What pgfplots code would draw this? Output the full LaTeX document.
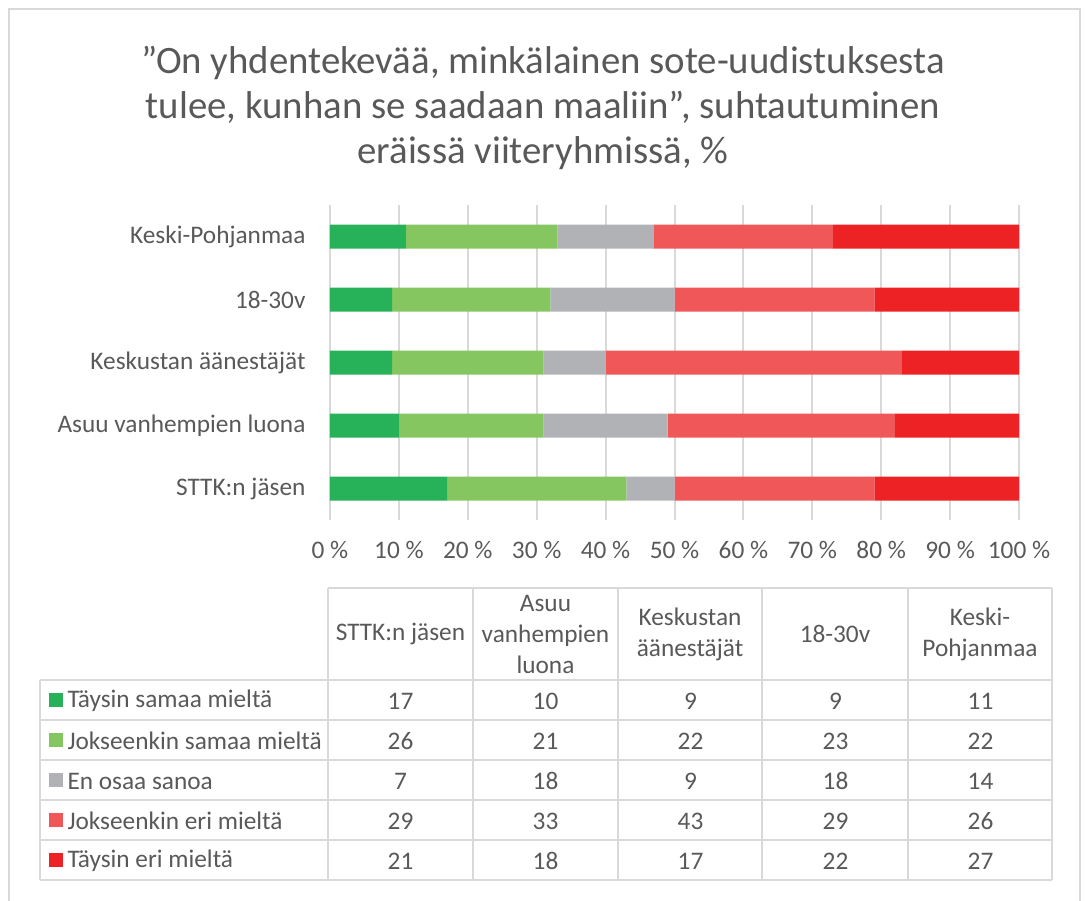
\documentclass[border=0pt]{standalone}
\usepackage{fontspec}
\setmainfont{Carlito}
\usepackage{pgfplots}
\pgfplotsset{compat=1.18}
\definecolor{cA}{HTML}{27B25A}
\definecolor{cB}{HTML}{86C660}
\definecolor{cC}{HTML}{B1B2B5}
\definecolor{cD}{HTML}{F05759}
\definecolor{cE}{HTML}{ED2224}
\definecolor{txt}{HTML}{595959}
\definecolor{gridc}{HTML}{D9D9D9}
\newcommand{\tfont}{\fontsize{25.3}{31}\selectfont}
\begin{document}
\begin{tikzpicture}
\begin{scope}[x=1pt,y=-1pt]
\useasboundingbox (0,0) rectangle (1085,901);
\draw[line width=2pt, gridc] (9,9) rectangle (1080,930);
\node[font=\fontsize{38.8}{45}\selectfont, text=txt, align=center] at (543,108)
  {”On yhdentekevää, minkälainen sote-uudistuksesta\\tulee, kunhan se saadaan maaliin”, suhtautuminen\\eräissä viiteryhmissä, \%};
\end{scope}

\begin{axis}[
  at={(330pt,-520pt)}, anchor=south west,
  width=689pt, height=315pt, scale only axis,
  xmin=0, xmax=100, ymin=-0.5, ymax=4.5,
  xbar stacked, bar width=24pt,
  axis line style={draw=none}, major tick length=0pt,
  xmajorgrids, grid style={line width=2pt, gridc},
  xtick={0,10,...,100},
  xticklabels={0 \%,10 \%,20 \%,30 \%,40 \%,50 \%,60 \%,70 \%,80 \%,90 \%,100 \%},
  ytick={0,1,2,3,4},
  yticklabels={STTK:n jäsen,Asuu vanhempien luona,Keskustan äänestäjät,18-30v,Keski-Pohjanmaa},
  tick label style={font=\tfont, text=txt},
  xticklabel style={yshift=-18pt},
  yticklabel style={xshift=-21pt},
  /pgf/number format/assume math mode=true,
]
% order: STTK, Asuu, Keskustan, 18-30v, Keski-Pohjanmaa
\addplot[fill=cA, draw=none] coordinates {(17,0) (10,1) (9,2) (9,3) (11,4)};
\addplot[fill=cB, draw=none] coordinates {(26,0) (21,1) (22,2) (23,3) (22,4)};
\addplot[fill=cC, draw=none] coordinates {(7,0) (18,1) (9,2) (18,3) (14,4)};
\addplot[fill=cD, draw=none] coordinates {(29,0) (33,1) (43,2) (29,3) (26,4)};
\addplot[fill=cE, draw=none] coordinates {(21,0) (18,1) (17,2) (22,3) (27,4)};
\end{axis}

\begin{scope}[x=1pt,y=-1pt]
% data table
\draw[line width=2pt, gridc] (328,588) -- (1052,588);
\foreach \yy in {680,720,...,880} \draw[line width=2pt, gridc] (40,\yy) -- (1052,\yy);
\draw[line width=2pt, gridc] (40,680) -- (40,880);
\foreach \xx in {328,473,618,762,908,1052} \draw[line width=2pt, gridc] (\xx,588) -- (\xx,880);
\begin{scope}[every node/.style={font=\tfont, text=txt, align=center}]
\node at (400.5,634) {STTK:n jäsen};
\node at (545.5,634) {Asuu\\vanhempien\\luona};
\node at (690,634) {Keskustan\\äänestäjät};
\node at (835,634) {18-30v};
\node at (980,634) {Keski-\\Pohjanmaa};
\end{scope}
\begin{scope}[every node/.style={font=\tfont, text=txt}]
\fill[cA] (49,693) rectangle (63,707);
\fill[cB] (49,733) rectangle (63,747);
\fill[cC] (49,773) rectangle (63,787);
\fill[cD] (49,813) rectangle (63,827);
\fill[cE] (49,853) rectangle (63,867);
\node[anchor=west] at (64,701) {Täysin samaa mieltä};
\node[anchor=west] at (64,741) {Jokseenkin samaa mieltä};
\node[anchor=west] at (64,781) {En osaa sanoa};
\node[anchor=west] at (64,821) {Jokseenkin eri mieltä};
\node[anchor=west] at (64,861) {Täysin eri mieltä};
\foreach \v [count=\i] in {17,10,9,9,11} \node at (255.5+145*\i,701) {\v};
\foreach \v [count=\i] in {26,21,22,23,22} \node at (255.5+145*\i,741) {\v};
\foreach \v [count=\i] in {7,18,9,18,14} \node at (255.5+145*\i,781) {\v};
\foreach \v [count=\i] in {29,33,43,29,26} \node at (255.5+145*\i,821) {\v};
\foreach \v [count=\i] in {21,18,17,22,27} \node at (255.5+145*\i,861) {\v};
\end{scope}
\end{scope}
\end{tikzpicture}
\end{document}
